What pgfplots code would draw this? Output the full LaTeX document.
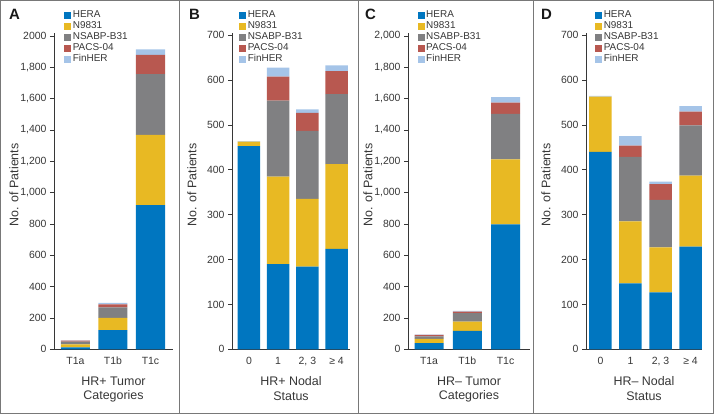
\documentclass[border=0pt]{standalone}
\usepackage{fontspec}
\setmainfont{Liberation Sans}
\usepackage{pgfplots}
\usepackage{pgfplotstable}
\pgfplotsset{compat=1.18}
\definecolor{hera}{RGB}{0,118,192}
\definecolor{ncct}{RGB}{232,185,35}
\definecolor{nsabp}{RGB}{128,128,130}
\definecolor{pacs}{RGB}{184,88,80}
\definecolor{finher}{RGB}{165,196,232}
\definecolor{axc}{RGB}{55,55,55}
\definecolor{frm}{RGB}{120,120,120}

\pgfplotstableread{
x hera n9831 nsabp pacs finher
0 13 19 17 6 2
1 123 77 68 19 9
2 921 447 389 122 36
}\tabA
\pgfplotstableread{
x hera n9831 nsabp pacs finher
0 453 10 0 0 1
1 190 195 169 54 20
2 184 151 152 40 8
3 224 189 156 51 13
}\tabB
\pgfplotstableread{
x hera n9831 nsabp pacs finher
0 40 26 17 9 2
1 118 58 55 10 5
2 798 415 289 72 35
}\tabC
\pgfplotstableread{
x hera n9831 nsabp pacs finher
0 440 123 0 0 2
1 147 138 144 25 21
2 127 100 106 35 6
3 229 158 112 31 12
}\tabD

\pgfplotsset{
  panel/.style={
    scale only axis, height=316.3bp,
    ybar stacked, ymin=0,
    axis lines*=left,
    axis line style={-, draw=axc, line width=0.8bp},
    x tick style={draw=none},
    y tick style={draw=axc, line width=0.8bp},
    tick align=outside, major tick length=4bp,
    tick label style={font=\fontsize{10.5}{11}\selectfont, text=axc},
    /pgf/number format/assume math mode=true,
    label style={font=\fontsize{12.5}{14.5}\selectfont, text=axc},
    ylabel={No. of Patients},
    xlabel style={align=center, at={(axis description cs:0.5,-0.086)}, anchor=north, inner sep=0pt},
    legend style={draw=none, fill=none, inner sep=0pt, anchor=north west,
      font=\fontsize{10}{10}\selectfont, text=axc, row sep=1.3bp,
      nodes={inner xsep=1.5bp, inner ysep=0pt, text height=7.2bp, text depth=2.5bp}},
    legend cell align=left,
    legend image code/.code={\fill[##1] (0bp,-3.5bp) rectangle (7bp,3.5bp);},
    every axis plot/.append style={draw=none},
  },
}

\begin{document}
\begin{tikzpicture}
\useasboundingbox (0,0) rectangle (714bp,414bp);
\draw[frm, line width=1bp] (0.5bp,0.5bp) rectangle (713.5bp,413.5bp);
\draw[frm, line width=1bp] (179.5bp,0) -- (179.5bp,414bp);
\draw[frm, line width=1bp] (358.5bp,0) -- (358.5bp,414bp);
\draw[frm, line width=1bp] (533.5bp,0) -- (533.5bp,414bp);

% Panel A
\begin{axis}[panel, at={(54bp,64.7bp)}, anchor=south west, width=119bp,
  bar width=29bp, xmin=-0.573, xmax=2.6, ymax=2019,
  xtick={0,1,2}, xticklabels={T1a,T1b,T1c},
  ytick={0,200,...,2000},
  yticklabels={0,200,400,600,800,{1,000},{1,200},{1,400},{1,600},{1,800},2000},
  xlabel={HR+ Tumor\\Categories},
  ylabel style={at={(axis description cs:-0.336,0.52)}, anchor=center},
  legend style={at={(axis description cs:0.085,1.072)}}]
\addplot[fill=hera] table[x=x,y=hera]{\tabA};
\addplot[fill=ncct] table[x=x,y=n9831]{\tabA};
\addplot[fill=nsabp] table[x=x,y=nsabp]{\tabA};
\addplot[fill=pacs] table[x=x,y=pacs]{\tabA};
\addplot[fill=finher] table[x=x,y=finher]{\tabA};
\legend{HERA,N9831,NSABP-B31,PACS-04,FinHER}
\end{axis}

% Panel B
\begin{axis}[panel, at={(232bp,64.7bp)}, anchor=south west, width=118bp,
  bar width=22.5bp, xmin=-0.58, xmax=3.46, ymax=705,
  xtick={0,1,2,3}, xticklabels={0,1,{2, 3},{≥ 4}},
  ytick={0,100,...,700},
  yticklabels={0,100,200,300,400,500,600,700},
  xlabel={HR+ Nodal\\Status},
  ylabel style={at={(axis description cs:-0.339,0.52)}, anchor=center},
  legend style={at={(axis description cs:0.06,1.072)}}]
\addplot[fill=hera] table[x=x,y=hera]{\tabB};
\addplot[fill=ncct] table[x=x,y=n9831]{\tabB};
\addplot[fill=nsabp] table[x=x,y=nsabp]{\tabB};
\addplot[fill=pacs] table[x=x,y=pacs]{\tabB};
\addplot[fill=finher] table[x=x,y=finher]{\tabB};
\legend{HERA,N9831,NSABP-B31,PACS-04,FinHER}
\end{axis}

% Panel C
\begin{axis}[panel, at={(408bp,64.7bp)}, anchor=south west, width=122bp,
  bar width=29bp, xmin=-0.55, xmax=2.64, ymax=2019,
  xtick={0,1,2}, xticklabels={T1a,T1b,T1c},
  ytick={0,200,...,2000},
  yticklabels={0,200,400,600,800,{1,000},{1,200},{1,400},{1,600},{1,800},{2,000}},
  xlabel={HR– Tumor\\Categories},
  ylabel style={at={(axis description cs:-0.328,0.52)}, anchor=center},
  legend style={at={(axis description cs:0.078,1.072)}}]
\addplot[fill=hera] table[x=x,y=hera]{\tabC};
\addplot[fill=ncct] table[x=x,y=n9831]{\tabC};
\addplot[fill=nsabp] table[x=x,y=nsabp]{\tabC};
\addplot[fill=pacs] table[x=x,y=pacs]{\tabC};
\addplot[fill=finher] table[x=x,y=finher]{\tabC};
\legend{HERA,N9831,NSABP-B31,PACS-04,FinHER}
\end{axis}

% Panel D
\begin{axis}[panel, at={(586bp,64.7bp)}, anchor=south west, width=116bp,
  bar width=22.5bp, xmin=-0.48, xmax=3.38, ymax=705,
  xtick={0,1,2,3}, xticklabels={0,1,{2, 3},{≥ 4}},
  ytick={0,100,...,700},
  yticklabels={0,100,200,300,400,500,600,700},
  xlabel={HR– Nodal\\Status},
  ylabel style={at={(axis description cs:-0.345,0.52)}, anchor=center},
  legend style={at={(axis description cs:0.078,1.072)}}]
\addplot[fill=hera] table[x=x,y=hera]{\tabD};
\addplot[fill=ncct] table[x=x,y=n9831]{\tabD};
\addplot[fill=nsabp] table[x=x,y=nsabp]{\tabD};
\addplot[fill=pacs] table[x=x,y=pacs]{\tabD};
\addplot[fill=finher] table[x=x,y=finher]{\tabD};
\legend{HERA,N9831,NSABP-B31,PACS-04,FinHER}
\end{axis}

\begin{scope}[every node/.style={anchor=north west, inner sep=0pt, font=\fontsize{15}{15}\selectfont\bfseries, text=black!90}]
\node at (9bp,405bp) {A};
\node at (189bp,405bp) {B};
\node at (365bp,405bp) {C};
\node at (541bp,405bp) {D};
\end{scope}
\end{tikzpicture}
\end{document}
